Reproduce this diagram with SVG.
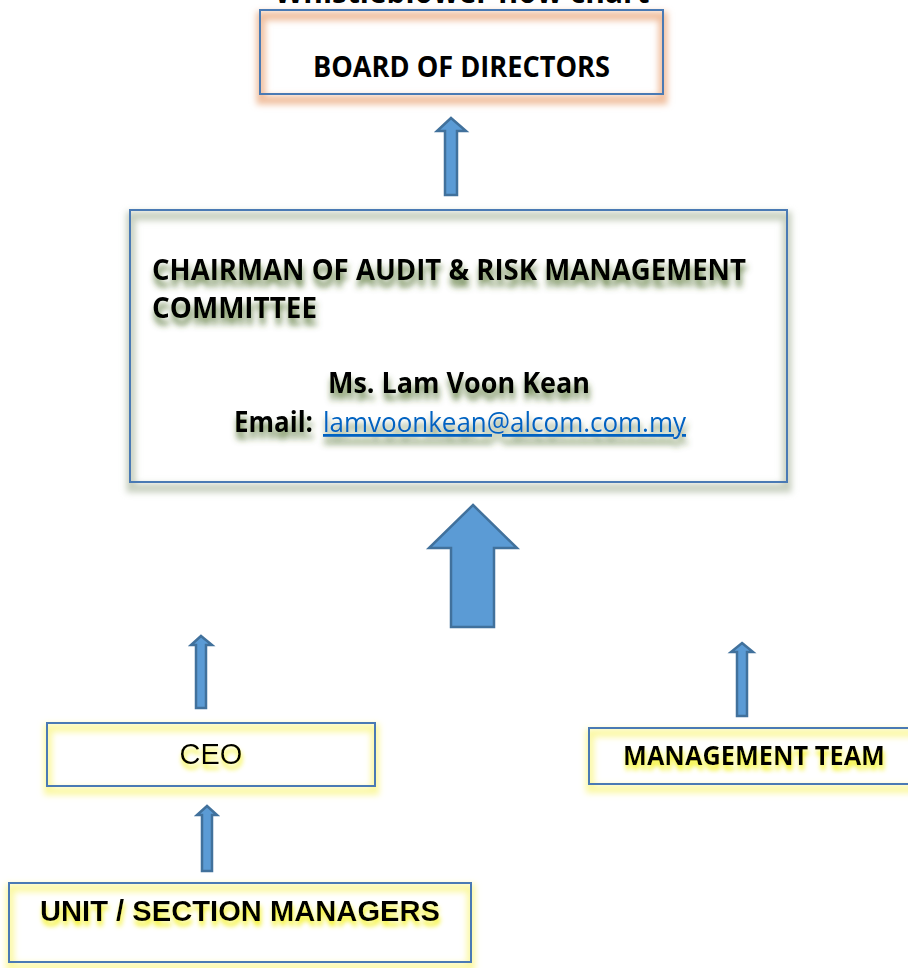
<svg xmlns="http://www.w3.org/2000/svg" width="908" height="968" viewBox="0 0 908 968">
<defs>
<style>
.box{fill:none;stroke:#4a7ab4;stroke-width:2}
.arrow{fill:#5b9bd5;stroke:#41719c;stroke-width:2.5;stroke-linejoin:miter}
.cal{font-family:"Open Sans",Lato,"Liberation Sans",sans-serif;font-weight:bold;fill:#000}
.ari{font-family:"Liberation Sans",Arial,sans-serif;fill:#000}
.link{font-family:"Open Sans",Lato,"Liberation Sans",sans-serif;fill:#0563c1;text-decoration:underline}
</style>
<filter id="blur" x="-20%" y="-50%" width="140%" height="200%"><feGaussianBlur stdDeviation="3"/></filter>
<filter id="gshadow" x="-10%" y="-50%" width="120%" height="250%">
<feGaussianBlur in="SourceAlpha" stdDeviation="3"/>
<feOffset dx="1" dy="7" result="b"/>
<feFlood flood-color="#4a6a25" flood-opacity="0.85"/>
<feComposite in2="b" operator="in" result="s"/>
<feMerge><feMergeNode in="s"/><feMergeNode in="SourceGraphic"/></feMerge>
</filter>
<filter id="yshadow" x="-10%" y="-50%" width="120%" height="250%">
<feGaussianBlur in="SourceAlpha" stdDeviation="2.5"/>
<feOffset dx="1" dy="5" result="b"/>
<feFlood flood-color="#f2f000" flood-opacity="0.9"/>
<feComposite in2="b" operator="in" result="s"/>
<feMerge><feMergeNode in="s"/><feMergeNode in="SourceGraphic"/></feMerge>
</filter>
</defs>
<rect width="908" height="968" fill="#fff"/>

<text class="cal" x="462" y="3" font-size="34" text-anchor="middle" textLength="375" lengthAdjust="spacingAndGlyphs">Whistleblower flow chart</text>

<g id="board">
<rect x="261" y="16" width="402" height="84" fill="none" stroke="#f0bf9f" stroke-width="9" filter="url(#blur)"/>
<rect class="box" x="260" y="10" width="403" height="84"/>
<text class="cal" x="313" y="77" font-size="29" textLength="297" lengthAdjust="spacingAndGlyphs">BOARD OF DIRECTORS</text>
</g>

<g id="chairman">
<rect x="131" y="216" width="656" height="272" fill="none" stroke="#c8d0c0" stroke-width="9" filter="url(#blur)"/>
<rect class="box" x="130" y="210" width="657" height="272"/>
<g filter="url(#gshadow)">
<text class="cal" x="152" y="280" font-size="28" textLength="594" lengthAdjust="spacingAndGlyphs">CHAIRMAN OF AUDIT &amp; RISK MANAGEMENT</text>
<text class="cal" x="152" y="318" font-size="28" textLength="165" lengthAdjust="spacingAndGlyphs">COMMITTEE</text>
<text class="cal" x="328" y="393" font-size="28" textLength="262" lengthAdjust="spacingAndGlyphs">Ms. Lam Voon Kean</text>
<text class="cal" x="234" y="432" font-size="28" textLength="79" lengthAdjust="spacingAndGlyphs">Email:</text>
<text class="link" x="323" y="432" font-size="28" textLength="363" lengthAdjust="spacingAndGlyphs">lamvoonkean@alcom.com.my</text>
</g>
</g>

<g id="ceo">
<rect x="48" y="728" width="327" height="63" fill="none" stroke="#fbf8a0" stroke-width="8" filter="url(#blur)"/>
<rect class="box" x="47" y="723" width="328" height="63"/>
<text class="ari" x="211" y="764" font-size="29" text-anchor="middle" filter="url(#yshadow)">CEO</text>
</g>

<g id="management">
<rect x="590" y="733" width="330" height="56" fill="none" stroke="#fbf8a0" stroke-width="8" filter="url(#blur)"/>
<rect class="box" x="589" y="728" width="330" height="56"/>
<text class="cal" x="623" y="765" font-size="26" textLength="262" lengthAdjust="spacingAndGlyphs" filter="url(#yshadow)">MANAGEMENT TEAM</text>
</g>

<g id="unit">
<rect x="10" y="888" width="461" height="79" fill="none" stroke="#fbf8a0" stroke-width="8" filter="url(#blur)"/>
<rect class="box" x="9" y="883" width="462" height="79"/>
<text class="ari" x="40" y="921" font-size="29" font-weight="bold" textLength="400" lengthAdjust="spacingAndGlyphs" filter="url(#yshadow)">UNIT / SECTION MANAGERS</text>
</g>

<g id="connectors">
<polygon class="arrow" points="451,118 466,131 457,131 457,195 445,195 445,131 437,131"/>
<polygon class="arrow" points="473,505 517,548 494,548 494,627 451,627 451,548 429,548"/>
<polygon class="arrow" points="201,636 212,645 206,645 206,708 196,708 196,645 191,645"/>
<polygon class="arrow" points="742,643 753,652 747,652 747,716 737,716 737,652 731,652"/>
<polygon class="arrow" points="207,806 217,815 212,815 212,871 202,871 202,815 197,815"/>
</g>
</svg>
